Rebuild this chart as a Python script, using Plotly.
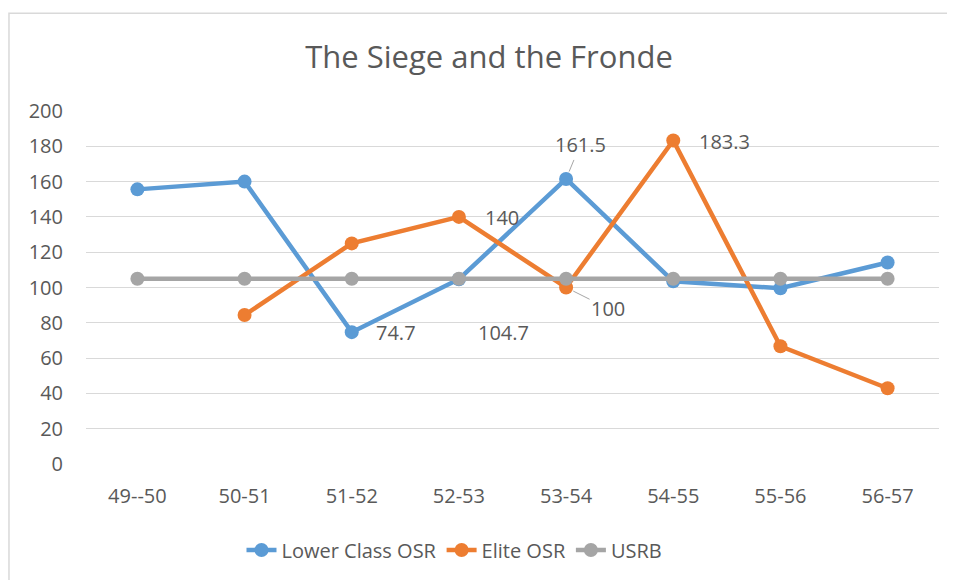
import plotly.graph_objects as go

categories = ["49--50", "50-51", "51-52", "52-53", "53-54", "54-55", "55-56", "56-57"]
lower_class_osr = [155.6, 160.0, 74.7, 104.7, 161.5, 103.5, 99.6, 114.2]
elite_osr = [None, 84.4, 125.0, 140.0, 100.0, 183.3, 66.7, 42.9]
usrb = [105.0, 105.0, 105.0, 105.0, 105.0, 105.0, 105.0, 105.0]
y_ticks = [0, 20, 40, 60, 80, 100, 120, 140, 160, 180, 200]

BLUE = "#5B9BD5"
ORANGE = "#ED7D31"
GREY = "#A5A5A5"
TEXT = "#595959"
FONT = "Open Sans"

fig = go.Figure()
for name, vals, col in [("Lower Class OSR", lower_class_osr, BLUE),
                        ("Elite OSR", elite_osr, ORANGE),
                        ("USRB", usrb, GREY)]:
    fig.add_trace(go.Scatter(
        x=categories, y=vals, name=name, mode="lines+markers",
        line=dict(color=col, width=4.5),
        marker=dict(color=col, size=14),
        connectgaps=False,
    ))

# data labels: (category index, series values, dx, dy (down positive), leader)
labels = [
    (2, lower_class_osr, 44, 0, False),
    (3, lower_class_osr, 45, 53, False),
    (3, elite_osr, 43, 1, False),
    (4, lower_class_osr, 14, -34, True),
    (4, elite_osr, 42, 21, True),
    (5, elite_osr, 51, 1, False),
]
for i, vals, dx, dy, leader in labels:
    v = vals[i]
    txt = f"{v:g}"
    if leader:
        fig.add_annotation(x=categories[i], y=v, text=txt, showarrow=True,
                           ax=dx, ay=dy, arrowhead=0, arrowwidth=1,
                           arrowcolor="#A6A6A6", standoff=8,
                           font=dict(family=FONT, size=20, color=TEXT))
    else:
        fig.add_annotation(x=categories[i], y=v, text=txt, showarrow=False,
                           xshift=dx, yshift=-dy,
                           font=dict(family=FONT, size=20, color=TEXT))

fig.add_shape(type="rect", xref="paper", yref="paper",
              x0=-0.0903, x1=1.05, y0=-0.40, y1=1.2768,
              line=dict(color="#D9D9D9", width=1.5), fillcolor="rgba(0,0,0,0)",
              layer="below")

fig.update_layout(
    width=947, height=572, autosize=False,
    margin=dict(l=78, r=16, t=103, b=115),
    paper_bgcolor="white", plot_bgcolor="white",
    font=dict(family=FONT, color=TEXT, size=20),
    title=dict(text="The Siege and the Fronde", x=0.4725, xref="paper",
               xanchor="center",
               y=1 - 49 / 572, yanchor="middle", yref="container",
               font=dict(family=FONT, size=31, color=TEXT)),
    xaxis=dict(showgrid=False, showline=False, ticks="", zeroline=False,
               ticklabelstandoff=18,
               tickfont=dict(family=FONT, size=20, color=TEXT)),
    yaxis=dict(range=[0, 200], tickvals=y_ticks, showgrid=True,
               gridcolor="#D9D9D9", gridwidth=1.2, zeroline=False,
               showline=False, ticks="", ticklabelstandoff=22,
               tickfont=dict(family=FONT, size=20, color=TEXT)),
    legend=dict(orientation="h", x=0.432, xanchor="center", y=-0.24,
                yanchor="middle", font=dict(family=FONT, size=20, color=TEXT)),
    showlegend=True,
)
fig.write_html("out.html")
